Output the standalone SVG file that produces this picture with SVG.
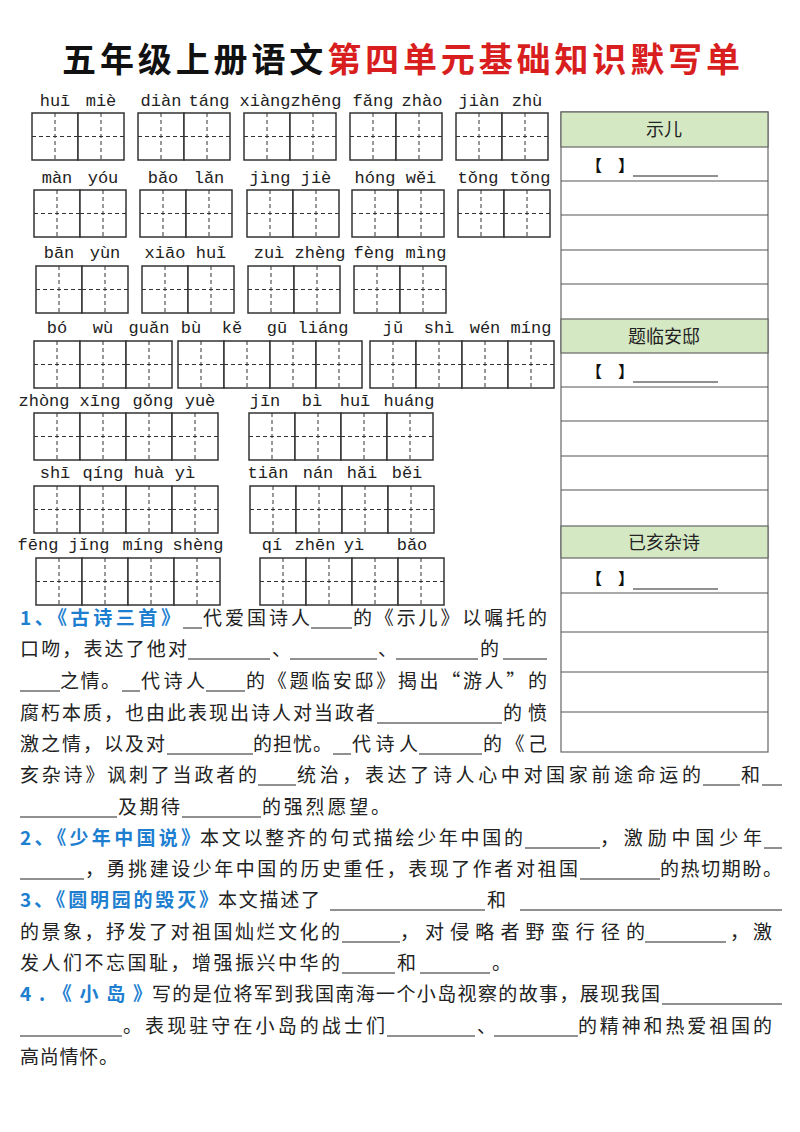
<svg xmlns="http://www.w3.org/2000/svg" xmlns:xlink="http://www.w3.org/1999/xlink" width="800" height="1132" viewBox="0 0 800 1132">
<style>
.py{font-family:"Liberation Mono","DejaVu Sans Mono",monospace;font-size:17px;fill:#222;text-anchor:middle}
.t{font-family:"Noto Sans CJK SC",sans-serif;font-size:19px;fill:#222}
.b{font-family:"Noto Sans CJK SC",sans-serif;font-size:19px;fill:#1e7fd0;font-weight:bold}
.bl{stroke:#222;stroke-width:1}
.h{font-family:"Noto Sans CJK SC",sans-serif;font-size:18px;fill:#222;text-anchor:middle}
.br{font-family:"Noto Sans CJK SC",sans-serif;font-size:16px;fill:#111;font-weight:bold}
.tl{stroke:#555;stroke-width:1.2}
</style>
<defs>
<g id="c"><rect x="0" y="0" width="46" height="47" fill="#fff" stroke="#333" stroke-width="1.5"/><path d="M23 0V47M0 23.5H46" stroke="#333" stroke-width="1" stroke-dasharray="4 3"/></g>
</defs>
<rect width="800" height="1132" fill="#fff"/>
<text x="62" y="72" font-family="Noto Sans CJK SC,sans-serif" font-size="34" font-weight="bold" textLength="678" lengthAdjust="spacing"><tspan fill="#111">五年级上册语文</tspan><tspan fill="#d81e1e">第四单元基础知识默写单</tspan></text>

<g id="grid">
<use href="#c" x="32" y="113"/><use href="#c" x="78" y="113"/>
<use href="#c" x="138" y="113"/><use href="#c" x="184" y="113"/>
<use href="#c" x="244" y="113"/><use href="#c" x="290" y="113"/>
<use href="#c" x="350" y="113"/><use href="#c" x="396" y="113"/>
<use href="#c" x="456" y="113"/><use href="#c" x="502" y="113"/>
<text class="py" x="55" y="106">huī</text><text class="py" x="101" y="106">miè</text>
<text class="py" x="161" y="106">diàn</text><text class="py" x="209" y="106">táng</text>
<text class="py" x="265" y="106">xiàng</text><text class="py" x="316" y="106">zhēng</text>
<text class="py" x="373" y="106">fǎng</text><text class="py" x="422" y="106">zhào</text>
<text class="py" x="479" y="106">jiàn</text><text class="py" x="527" y="106">zhù</text>
<use href="#c" x="34" y="190"/><use href="#c" x="80" y="190"/>
<use href="#c" x="140" y="190"/><use href="#c" x="186" y="190"/>
<use href="#c" x="247" y="190"/><use href="#c" x="293" y="190"/>
<use href="#c" x="352" y="190"/><use href="#c" x="398" y="190"/>
<use href="#c" x="458" y="190"/><use href="#c" x="504" y="190"/>
<text class="py" x="57" y="183">màn</text><text class="py" x="103" y="183">yóu</text>
<text class="py" x="163" y="183">bǎo</text><text class="py" x="209" y="183">lǎn</text>
<text class="py" x="270" y="183">jìng</text><text class="py" x="316" y="183">jiè</text>
<text class="py" x="375" y="183">hóng</text><text class="py" x="421" y="183">wěi</text>
<text class="py" x="478" y="183">tǒng</text><text class="py" x="530" y="183">tǒng</text>
<use href="#c" x="36" y="266"/><use href="#c" x="82" y="266"/>
<use href="#c" x="142" y="266"/><use href="#c" x="188" y="266"/>
<use href="#c" x="248" y="266"/><use href="#c" x="294" y="266"/>
<use href="#c" x="354" y="266"/><use href="#c" x="400" y="266"/>
<text class="py" x="59" y="258">bān</text><text class="py" x="105" y="258">yùn</text>
<text class="py" x="165" y="258">xiāo</text><text class="py" x="211" y="258">huǐ</text>
<text class="py" x="269" y="258">zuì</text><text class="py" x="320" y="258">zhèng</text>
<text class="py" x="374" y="258">fèng</text><text class="py" x="426" y="258">mìng</text>
<use href="#c" x="34" y="341"/><use href="#c" x="80" y="341"/><use href="#c" x="126" y="341"/>
<use href="#c" x="178" y="341"/><use href="#c" x="224" y="341"/><use href="#c" x="270" y="341"/><use href="#c" x="316" y="341"/>
<use href="#c" x="370" y="341"/><use href="#c" x="416" y="341"/><use href="#c" x="462" y="341"/><use href="#c" x="508" y="341"/>
<text class="py" x="57" y="333">bó</text><text class="py" x="103" y="333">wù</text><text class="py" x="149" y="333">guǎn</text>
<text class="py" x="191" y="333">bù</text><text class="py" x="232" y="333">kě</text><text class="py" x="277" y="333">gū</text><text class="py" x="323" y="333">liáng</text>
<text class="py" x="393" y="333">jǔ</text><text class="py" x="439" y="333">shì</text><text class="py" x="485" y="333">wén</text><text class="py" x="531" y="333">míng</text>
<use href="#c" x="34" y="413"/><use href="#c" x="80" y="413"/><use href="#c" x="126" y="413"/><use href="#c" x="172" y="413"/>
<use href="#c" x="249" y="413"/><use href="#c" x="295" y="413"/><use href="#c" x="341" y="413"/><use href="#c" x="387" y="413"/>
<text class="py" x="44" y="406">zhòng</text><text class="py" x="100" y="406">xīng</text><text class="py" x="153" y="406">gǒng</text><text class="py" x="200" y="406">yuè</text>
<text class="py" x="265" y="406">jīn</text><text class="py" x="312" y="406">bì</text><text class="py" x="355" y="406">huī</text><text class="py" x="409" y="406">huáng</text>
<use href="#c" x="34" y="486"/><use href="#c" x="80" y="486"/><use href="#c" x="126" y="486"/><use href="#c" x="172" y="486"/>
<use href="#c" x="250" y="486"/><use href="#c" x="296" y="486"/><use href="#c" x="342" y="486"/><use href="#c" x="388" y="486"/>
<text class="py" x="55" y="478">shī</text><text class="py" x="103" y="478">qíng</text><text class="py" x="149" y="478">huà</text><text class="py" x="185" y="478">yì</text>
<text class="py" x="268" y="478">tiān</text><text class="py" x="318" y="478">nán</text><text class="py" x="362" y="478">hǎi</text><text class="py" x="407" y="478">běi</text>
<use href="#c" x="36" y="558"/><use href="#c" x="82" y="558"/><use href="#c" x="128" y="558"/><use href="#c" x="174" y="558"/>
<use href="#c" x="260" y="558"/><use href="#c" x="306" y="558"/><use href="#c" x="352" y="558"/><use href="#c" x="398" y="558"/>
<text class="py" x="38" y="550">fēng</text><text class="py" x="89" y="550">jǐng</text><text class="py" x="143" y="550">míng</text><text class="py" x="198" y="550">shèng</text>
<text class="py" x="272" y="550">qí</text><text class="py" x="315" y="550">zhēn</text><text class="py" x="354" y="550">yì</text><text class="py" x="412" y="550">bǎo</text>
</g>

<g id="poems">
<rect x="561" y="112" width="207" height="640" fill="#fff" stroke="#666" stroke-width="1.2"/>
<rect x="561" y="112" width="207" height="35" fill="#d5e8c4" stroke="#666" stroke-width="1.2"/>
<rect x="561" y="319" width="207" height="34" fill="#d5e8c4" stroke="#666" stroke-width="1.2"/>
<rect x="561" y="526" width="207" height="32" fill="#d5e8c4" stroke="#666" stroke-width="1.2"/>
<path class="tl" d="M561 181H768M561 215H768M561 250H768M561 284H768M561 387H768M561 421H768M561 456H768M561 490H768M561 593H768M561 632H768M561 672H768M561 712H768"/>
<text class="h" x="664" y="136">示儿</text>
<text class="h" x="664" y="343">题临安邸</text>
<text class="h" x="664" y="549">已亥杂诗</text>
<text class="br" x="586" y="171">【</text><text class="br" x="618" y="171">】</text><line class="bl" x1="633" y1="176" x2="718" y2="176"/>
<text class="br" x="586" y="377">【</text><text class="br" x="618" y="377">】</text><line class="bl" x1="633" y1="382" x2="718" y2="382"/>
<text class="br" x="586" y="584">【</text><text class="br" x="618" y="584">】</text><line class="bl" x1="633" y1="589" x2="718" y2="589"/>
</g>

<g id="text">
<text class="b" x="20" y="625" textLength="160" lengthAdjust="spacing">1、《古诗三首》</text>
<line class="bl" x1="183" y1="628" x2="202" y2="628"/>
<text class="t" x="203" y="625" textLength="107" lengthAdjust="spacing">代爱国诗人</text>
<line class="bl" x1="311" y1="628" x2="352" y2="628"/>
<text class="t" x="353" y="625" textLength="194" lengthAdjust="spacing">的《示儿》以嘱托的</text>
<text class="t" x="20" y="656" textLength="167" lengthAdjust="spacing">口吻，表达了他对</text>
<line class="bl" x1="188" y1="659" x2="270" y2="659"/>
<text class="t" x="272" y="656">、</text>
<line class="bl" x1="290" y1="659" x2="377" y2="659"/>
<text class="t" x="378" y="656">、</text>
<line class="bl" x1="396" y1="659" x2="478" y2="659"/>
<text class="t" x="480" y="656">的</text>
<line class="bl" x1="503" y1="659" x2="547" y2="659"/>
<line class="bl" x1="20" y1="691" x2="60" y2="691"/>
<text class="t" x="60" y="688" textLength="60" lengthAdjust="spacing">之情。</text>
<line class="bl" x1="122" y1="691" x2="140" y2="691"/>
<text class="t" x="141" y="688" textLength="64" lengthAdjust="spacing">代诗人</text>
<line class="bl" x1="206" y1="691" x2="245" y2="691"/>
<text class="t" x="246" y="688" textLength="301" lengthAdjust="spacing">的《题临安邸》揭出“游人”的</text>
<text class="t" x="20" y="720" textLength="355" lengthAdjust="spacing">腐朽本质，也由此表现出诗人对当政者</text>
<line class="bl" x1="377" y1="723" x2="502" y2="723"/>
<text class="t" x="503" y="720" textLength="44" lengthAdjust="spacing">的愤</text>
<text class="t" x="20" y="751" textLength="145" lengthAdjust="spacing">激之情，以及对</text>
<line class="bl" x1="167" y1="754" x2="253" y2="754"/>
<text class="t" x="253" y="751" textLength="79" lengthAdjust="spacing">的担忧。</text>
<line class="bl" x1="333" y1="754" x2="351" y2="754"/>
<text class="t" x="352" y="751" textLength="66" lengthAdjust="spacing">代诗人</text>
<line class="bl" x1="419" y1="754" x2="482" y2="754"/>
<text class="t" x="483" y="751" textLength="64" lengthAdjust="spacing">的《己</text>
<text class="t" x="20" y="782" textLength="237" lengthAdjust="spacing">亥杂诗》讽刺了当政者的</text>
<line class="bl" x1="258" y1="785" x2="296" y2="785"/>
<text class="t" x="297" y="782" textLength="404" lengthAdjust="spacing">统治，表达了诗人心中对国家前途命运的</text>
<line class="bl" x1="703" y1="785" x2="740" y2="785"/>
<text class="t" x="741" y="782">和</text>
<line class="bl" x1="762" y1="785" x2="782" y2="785"/>
<line class="bl" x1="20" y1="817" x2="117" y2="817"/>
<text class="t" x="118" y="814" textLength="62" lengthAdjust="spacing">及期待</text>
<line class="bl" x1="182" y1="817" x2="261" y2="817"/>
<text class="t" x="262" y="814" textLength="128" lengthAdjust="spacing">的强烈愿望。</text>
<text class="b" x="20" y="845" textLength="180" lengthAdjust="spacing">2、《少年中国说》</text>
<text class="t" x="200" y="845" textLength="323" lengthAdjust="spacing">本文以整齐的句式描绘少年中国的</text>
<line class="bl" x1="525" y1="848" x2="600" y2="848"/>
<text class="t" x="600" y="845" textLength="162" lengthAdjust="spacing">，激励中国少年</text>
<line class="bl" x1="764" y1="848" x2="782" y2="848"/>
<line class="bl" x1="20" y1="879" x2="84" y2="879"/>
<text class="t" x="85" y="876" textLength="493" lengthAdjust="spacing">，勇挑建设少年中国的历史重任，表现了作者对祖国</text>
<line class="bl" x1="580" y1="879" x2="660" y2="879"/>
<text class="t" x="660" y="876" textLength="122" lengthAdjust="spacing">的热切期盼。</text>
<text class="b" x="20" y="907" textLength="198" lengthAdjust="spacing">3、《圆明园的毁灭》</text>
<text class="t" x="218" y="907" textLength="102" lengthAdjust="spacing">本文描述了</text>
<line class="bl" x1="330" y1="910" x2="485" y2="910"/>
<text class="t" x="487" y="907">和</text>
<line class="bl" x1="520" y1="910" x2="782" y2="910"/>
<text class="t" x="20" y="939" textLength="320" lengthAdjust="spacing">的景象，抒发了对祖国灿烂文化的</text>
<line class="bl" x1="342" y1="942" x2="400" y2="942"/>
<text class="t" x="400" y="939" textLength="245" lengthAdjust="spacing">，对侵略者野蛮行径的</text>
<line class="bl" x1="645" y1="942" x2="726" y2="942"/>
<text class="t" x="730" y="939" textLength="42" lengthAdjust="spacing">，激</text>
<text class="t" x="20" y="970" textLength="320" lengthAdjust="spacing">发人们不忘国耻，增强振兴中华的</text>
<line class="bl" x1="342" y1="973" x2="395" y2="973"/>
<text class="t" x="397" y="970">和</text>
<line class="bl" x1="420" y1="973" x2="490" y2="973"/>
<text class="t" x="492" y="970">。</text>
<text class="b" x="20" y="1001" textLength="132" lengthAdjust="spacing">4.《小岛》</text>
<text class="t" x="152" y="1001" textLength="508" lengthAdjust="spacing">写的是位将军到我国南海一个小岛视察的故事，展现我国</text>
<line class="bl" x1="662" y1="1004" x2="782" y2="1004"/>
<line class="bl" x1="20" y1="1036" x2="122" y2="1036"/>
<text class="t" x="123" y="1033" textLength="262" lengthAdjust="spacing">。表现驻守在小岛的战士们</text>
<line class="bl" x1="387" y1="1036" x2="475" y2="1036"/>
<text class="t" x="477" y="1033">、</text>
<line class="bl" x1="494" y1="1036" x2="578" y2="1036"/>
<text class="t" x="578" y="1033" textLength="194" lengthAdjust="spacing">的精神和热爱祖国的</text>
<text class="t" x="20" y="1064" textLength="98" lengthAdjust="spacing">高尚情怀。</text>
</g>
</svg>
